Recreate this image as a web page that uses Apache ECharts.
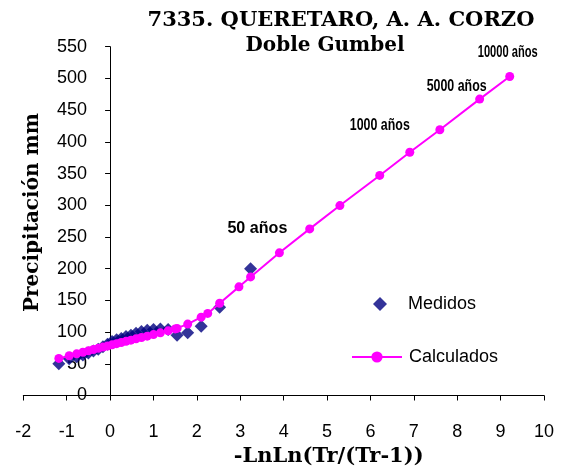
<!DOCTYPE html>
<html>
<head>
<meta charset="utf-8">
<script src="https://cdn.jsdelivr.net/npm/echarts@6/dist/echarts.min.js"></script>
<style>html,body{margin:0;padding:0;background:#fff}#c{width:563px;height:469px}</style>
</head>
<body>
<div id="c"></div>
<script>
// Measured: x = -LnLn(Tr/(Tr-1)), y = precipitation (mm)
const medidosX = [3.238, 2.525, 2.099, 1.789, 1.544, 1.338, 1.159, 1.000, 0.856, 0.723, 0.598, 0.480, 0.367,
                  0.257, 0.151, 0.046, -0.059, -0.164, -0.272, -0.383, -0.500, -0.627, -0.770, -0.942, -1.181];
const medidosY = [200, 139, 109, 99, 95, 104, 105, 104, 103, 101, 98, 95, 93,
                  90, 88, 85, 81, 77, 73, 70, 67, 64, 61, 58, 50];
// Calculated (double Gumbel)
const calcX = [-1.181, -0.942, -0.770, -0.627, -0.500, -0.383, -0.272, -0.164, -0.059, 0.046, 0.151, 0.257,
               0.367, 0.480, 0.598, 0.723, 0.856, 1.000, 1.159, 1.338, 1.500, 1.544, 1.789, 2.099, 2.250,
               2.525, 2.970, 3.238, 3.902, 4.600, 5.296, 6.214, 6.907, 7.600, 8.517, 9.210];
const calcY = [58.5, 62.7, 65.7, 68.2, 70.4, 72.5, 74.4, 76.3, 78.1, 79.9, 81.7, 83.5,
               85.4, 87.3, 89.3, 91.4, 93.6, 96.0, 98.8, 102.0, 105.0, 105.8, 112.6, 123.5, 129.4,
               145.5, 171.3, 187, 225, 262.7, 299.5, 347, 383.5, 419, 467.4, 503];
// Return-period annotations: index into calc arrays, text
const annotIdx = [28, 32, 34, 35];
const annotText = ['50 años', '1000 años', '5000 años', '10000 años'];
const xTicks = {min: -2, max: 10, step: 1};
const yTicks = {min: 0, max: 550, step: 50};

// styling for annotations (pixel offsets from the point, target text width)
const annotOffsets = [[-22, -24], [-30, -27], [-23, -13], [-2, -24]];
const annotWidth = 60;

const chart = echarts.init(document.getElementById('c'), null, {renderer: 'canvas'});
const serif = '"DejaVu Serif", "Liberation Serif", serif';
const sans = '"Liberation Sans", Arial, sans-serif';
const gridLeft = 23.3, gridRight = 19;
const plotW = 563 - gridLeft - gridRight;
const yAxisOffset = -plotW * (0 - xTicks.min) / (xTicks.max - xTicks.min);

chart.setOption({
  animation: false,
  backgroundColor: '#fff',
  title: [
    {text: '7335. QUERETARO, A. A. CORZO', left: 336, top: 5, textAlign: 'center',
     textStyle: {fontFamily: serif, fontWeight: 'bold', fontSize: 21, color: '#000'}},
    {text: 'Doble Gumbel', left: 320, top: 31, textAlign: 'center',
     textStyle: {fontFamily: serif, fontWeight: 'bold', fontSize: 20, color: '#000'}}
  ],
  legend: [
    {orient: 'vertical', left: 368, top: 290, itemWidth: 14, itemHeight: 14,
     textStyle: {fontFamily: sans, fontSize: 18, color: '#000', padding: [0, 0, 0, 16]},
     data: [{name: 'Medidos', icon: 'diamond'}]},
    {orient: 'vertical', left: 346, top: 343, itemWidth: 50, itemHeight: 14,
     textStyle: {fontFamily: sans, fontSize: 18, color: '#000', padding: [0, 0, 0, 2]},
     data: [{name: 'Calculados'}]}
  ],
  grid: {left: gridLeft, right: gridRight, top: 46.7, bottom: 73.5, containLabel: false, outerBoundsMode: 'none'},
  xAxis: {
    type: 'value', min: xTicks.min, max: xTicks.max, interval: xTicks.step,
    name: '-LnLn(Tr/(Tr-1))', nameLocation: 'middle', nameGap: 50,
    nameTextStyle: {fontFamily: serif, fontWeight: 'bold', fontSize: 21, color: '#000', padding: [0, 0, 0, 90]},
    axisLine: {onZero: false, lineStyle: {color: '#000', width: 1}},
    axisTick: {show: true, length: 5, lineStyle: {color: '#000'}},
    axisLabel: {margin: 28, fontFamily: sans, fontSize: 18, color: '#000'},
    splitLine: {show: false}
  },
  yAxis: {
    type: 'value', min: yTicks.min, max: yTicks.max, interval: yTicks.step,
    offset: yAxisOffset,
    name: 'Precipitación mm', nameLocation: 'middle', nameGap: 67, nameRotate: 90,
    nameTextStyle: {fontFamily: serif, fontWeight: 'bold', fontSize: 20, color: '#000', padding: [0, 0, 0, 17]},
    axisLine: {show: true, onZero: false, lineStyle: {color: '#000', width: 1}},
    axisTick: {show: true, length: 5, lineStyle: {color: '#000'}},
    axisLabel: {margin: 23, fontFamily: sans, fontSize: 18, color: '#000'},
    splitLine: {show: false}
  },
  series: [
    {name: 'Medidos', type: 'scatter', symbol: 'diamond', symbolSize: 13,
     itemStyle: {color: '#000080'}, data: medidosX.map((x, i) => [x, medidosY[i]]), z: 2},
    {name: 'Calculados', type: 'line', symbol: 'circle', symbolSize: 9, showAllSymbol: true,
     lineStyle: {color: '#ff00ff', width: 2}, itemStyle: {color: '#ff00ff'},
     data: calcX.map((x, i) => [x, calcY[i]]), z: 3}
  ]
});

// annotations anchored to the calculated points through the chart's scales
const annFont = 'bold 17px "Liberation Sans", Arial, sans-serif';
const ctx = document.createElement('canvas').getContext('2d');
ctx.font = annFont;
const graphics = annotIdx.map((idx, k) => {
  const p = chart.convertToPixel({gridIndex: 0}, [calcX[idx], calcY[idx]]);
  const w = ctx.measureText(annotText[k]).width;
  return {
    type: 'text', x: p[0] + annotOffsets[k][0], y: p[1] + annotOffsets[k][1],
    scaleX: Math.min(1, annotWidth / w), z: 10,
    style: {text: annotText[k], font: annFont, fill: '#000', textAlign: 'center', textVerticalAlign: 'middle'}
  };
});
chart.setOption({graphic: graphics});
</script>
</body>
</html>
